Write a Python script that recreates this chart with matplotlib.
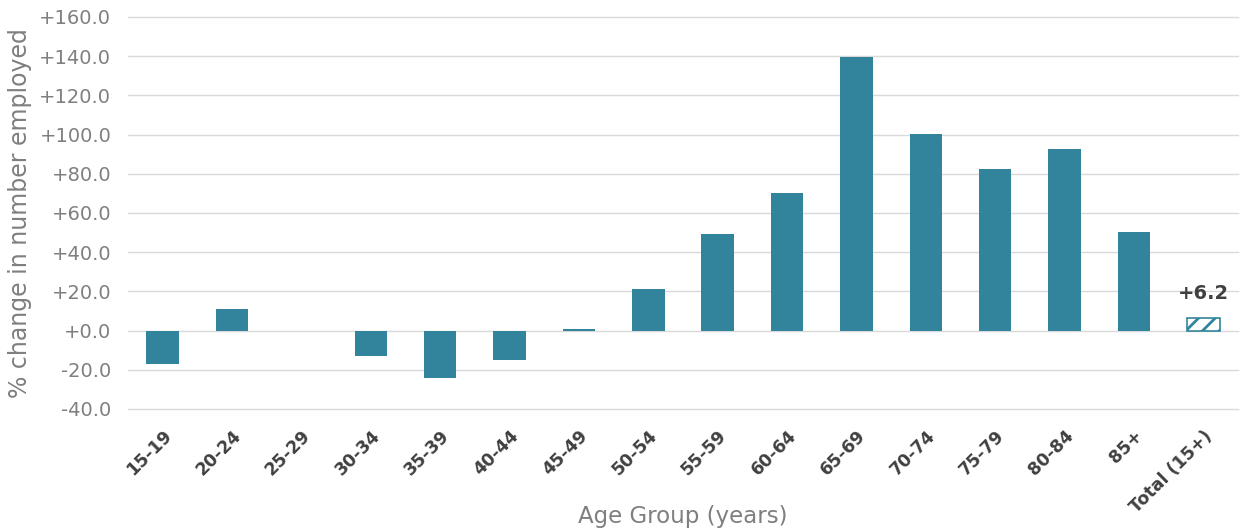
import matplotlib
matplotlib.use("Agg")
import matplotlib.pyplot as plt
import numpy as np

categories = ["15-19", "20-24", "25-29", "30-34", "35-39", "40-44", "45-49",
              "50-54", "55-59", "60-64", "65-69", "70-74", "75-79", "80-84",
              "85+", "Total (15+)"]
values = [-17.2, 11.0, 0.0, -13.2, -24.3, -15.2, 0.8, 21.0, 49.5, 70.0,
          139.8, 100.5, 82.7, 92.9, 50.5, 6.2]
yticks = [-40, -20, 0, 20, 40, 60, 80, 100, 120, 140, 160]

teal = "#31849b"
grey = "#7f7f7f"
dark = "#404040"
plt.rcParams["font.family"] = ["DejaVu Sans"]
plt.rcParams["hatch.color"] = teal
plt.rcParams["hatch.linewidth"] = 2.0

W, H = 1246, 531
fig = plt.figure(figsize=(W / 100, H / 100), dpi=100)
ax = fig.add_axes([128 / W, 1 - 409 / H, 1110 / W, 392 / H])

x = np.arange(len(categories))
ax.bar(x[:-1], values[:-1], width=0.47, color=teal, zorder=3)
ax.bar(x[-1], values[-1], width=0.47, facecolor="white", edgecolor=teal,
       hatch="//", linewidth=1.2, zorder=3)
ax.text(x[-1], values[-1] + 8, f"+{values[-1]:.1f}", ha="center", va="bottom",
        fontsize=14, fontweight="bold", color=dark)

ax.set_xlim(-0.5, len(categories) - 0.5)
ax.set_ylim(-40, 160)
ax.set_yticks(yticks)
ax.set_yticklabels([f"{v:+.1f}" for v in yticks], fontsize=14, color=grey)
ax.set_xticks(x)
ax.set_xticklabels(categories, rotation=45, ha="right", rotation_mode="anchor",
                   fontsize=12.5, fontweight="bold", color=dark)
ax.tick_params(axis="y", length=0, pad=12)
ax.tick_params(axis="x", length=0, pad=13)
ax.grid(axis="y", color="#d9d9d9", linewidth=1, zorder=0)
for gl in ax.get_ygridlines():
    gl.set_clip_on(False)
for s in ax.spines.values():
    s.set_visible(False)

ax.set_ylabel("% change in number employed", fontsize=17, color=grey)
ax.yaxis.set_label_coords((32 - 128) / 1110, 0.5)
fig.text((128 + 555) / W, 1 - 516 / H, "Age Group (years)", fontsize=16.5,
         color=grey, ha="center", va="center")

fig.savefig("out.png", dpi=100, facecolor="white")
